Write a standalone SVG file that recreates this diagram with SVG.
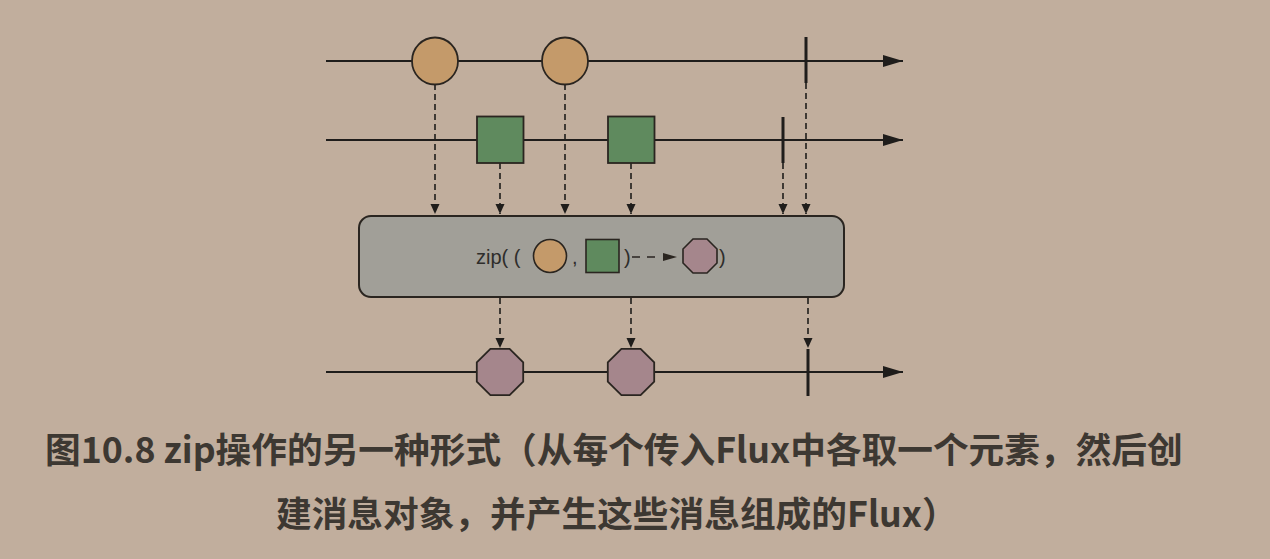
<svg xmlns="http://www.w3.org/2000/svg" width="1270" height="559" viewBox="0 0 1270 559">
<style>
.tl{stroke:#1f1d1b;stroke-width:2.2;fill:none}
.bar{stroke:#1f1d1b;stroke-width:3;fill:none}
.dash{stroke:#1f1d1b;stroke-width:1.6;stroke-dasharray:6 4;fill:none}
.circ{fill:#c49a6a;stroke:#2a2520;stroke-width:1.8}
.sq{fill:#5f8a5e;stroke:#2a2520;stroke-width:1.8}
.oct{fill:#a5868c;stroke:#2a2520;stroke-width:1.8}
.box{fill:#a19f98;stroke:#2a2520;stroke-width:2}
.op{font-family:"Liberation Sans",Arial,sans-serif;font-size:20px;fill:#2e2d2b}
.cap{font-family:"Noto Sans CJK SC","Noto Sans",sans-serif;font-size:35.7px;font-weight:bold;fill:#3d3832}
</style>
<defs>
<marker id="big" markerUnits="userSpaceOnUse" markerWidth="22" markerHeight="14" refX="20" refY="6" orient="auto"><path d="M0,0 L20,6 L0,12 Z" fill="#1f1d1b"/></marker>
<marker id="sm" markerUnits="userSpaceOnUse" markerWidth="10" markerHeight="12" refX="10" refY="4.5" orient="auto"><path d="M0,0 L10,4.5 L0,9 Z" fill="#1f1d1b"/></marker>
</defs>
<rect x="0" y="0" width="1270" height="559" fill="#c1ae9d"/>
<g id="connectors">
<line class="dash" x1="435" y1="84" x2="435" y2="214" marker-end="url(#sm)"/>
<line class="dash" x1="565" y1="84" x2="565" y2="214" marker-end="url(#sm)"/>
<line class="dash" x1="500" y1="163" x2="500" y2="214" marker-end="url(#sm)"/>
<line class="dash" x1="631" y1="163" x2="631" y2="214" marker-end="url(#sm)"/>
<line class="dash" x1="783" y1="163" x2="783" y2="214" marker-end="url(#sm)"/>
<line class="dash" x1="806" y1="83" x2="806" y2="214" marker-end="url(#sm)"/>
<line class="dash" x1="500" y1="298" x2="500" y2="348" marker-end="url(#sm)"/>
<line class="dash" x1="631" y1="298" x2="631" y2="348" marker-end="url(#sm)"/>
<line class="dash" x1="808" y1="298" x2="808" y2="348" marker-end="url(#sm)"/>
</g>
<g id="timeline-top">
<line class="tl" x1="326" y1="61" x2="903" y2="61" marker-end="url(#big)"/>
<line class="bar" x1="806" y1="37" x2="806" y2="83"/>
</g>
<g id="circle-1"><ellipse class="circ" cx="435" cy="61" rx="23" ry="23.5"/></g>
<g id="circle-2"><ellipse class="circ" cx="565" cy="61" rx="23" ry="23.5"/></g>
<g id="timeline-middle">
<line class="tl" x1="326" y1="140" x2="903" y2="140" marker-end="url(#big)"/>
<line class="bar" x1="783" y1="117" x2="783" y2="163"/>
</g>
<g id="square-1"><rect class="sq" x="477" y="116.5" width="46.5" height="46.5"/></g>
<g id="square-2"><rect class="sq" x="608" y="116.5" width="46.5" height="46.5"/></g>
<g id="zip-operator">
<rect class="box" x="359" y="216" width="485" height="81" rx="12"/>
<text class="op" x="476" y="264">zip( (</text>
<circle cx="550" cy="256" r="16.5" fill="#c49a6a" stroke="#2a2520" stroke-width="1.6"/>
<text class="op" x="572" y="264">,</text>
<rect x="586" y="239.5" width="33" height="33" fill="#5f8a5e" stroke="#2a2520" stroke-width="1.6"/>
<text class="op" x="624" y="264">)</text>
<line x1="632" y1="257" x2="660" y2="257" stroke="#2a2520" stroke-width="1.6" stroke-dasharray="8 7"/>
<path d="M663,253 L677,257 L663,261 Z" fill="#2a2520"/>
<polygon points="693,239 707,239 717,249 717,263 707,273 693,273 683,263 683,249" fill="#a5868c" stroke="#2a2520" stroke-width="1.6"/>
<text class="op" x="719" y="264">)</text>
</g>
<g id="timeline-bottom">
<line class="tl" x1="326" y1="372" x2="903" y2="372" marker-end="url(#big)"/>
<line class="bar" x1="808" y1="349" x2="808" y2="396"/>
</g>
<g id="octagon-1"><polygon class="oct" transform="translate(500,372)" points="-9.6,-23.2 9.6,-23.2 23.2,-9.6 23.2,9.6 9.6,23.2 -9.6,23.2 -23.2,9.6 -23.2,-9.6"/></g>
<g id="octagon-2"><polygon class="oct" transform="translate(631,372)" points="-9.6,-23.2 9.6,-23.2 23.2,-9.6 23.2,9.6 9.6,23.2 -9.6,23.2 -23.2,9.6 -23.2,-9.6"/></g>
<g id="caption">
<text class="cap" x="45" y="463">图10.8 zip操作的另一种形式（从每个传入Flux中各取一个元素，然后创</text>
<text class="cap" x="276" y="527">建消息对象，并产生这些消息组成的Flux）</text>
</g>
</svg>
